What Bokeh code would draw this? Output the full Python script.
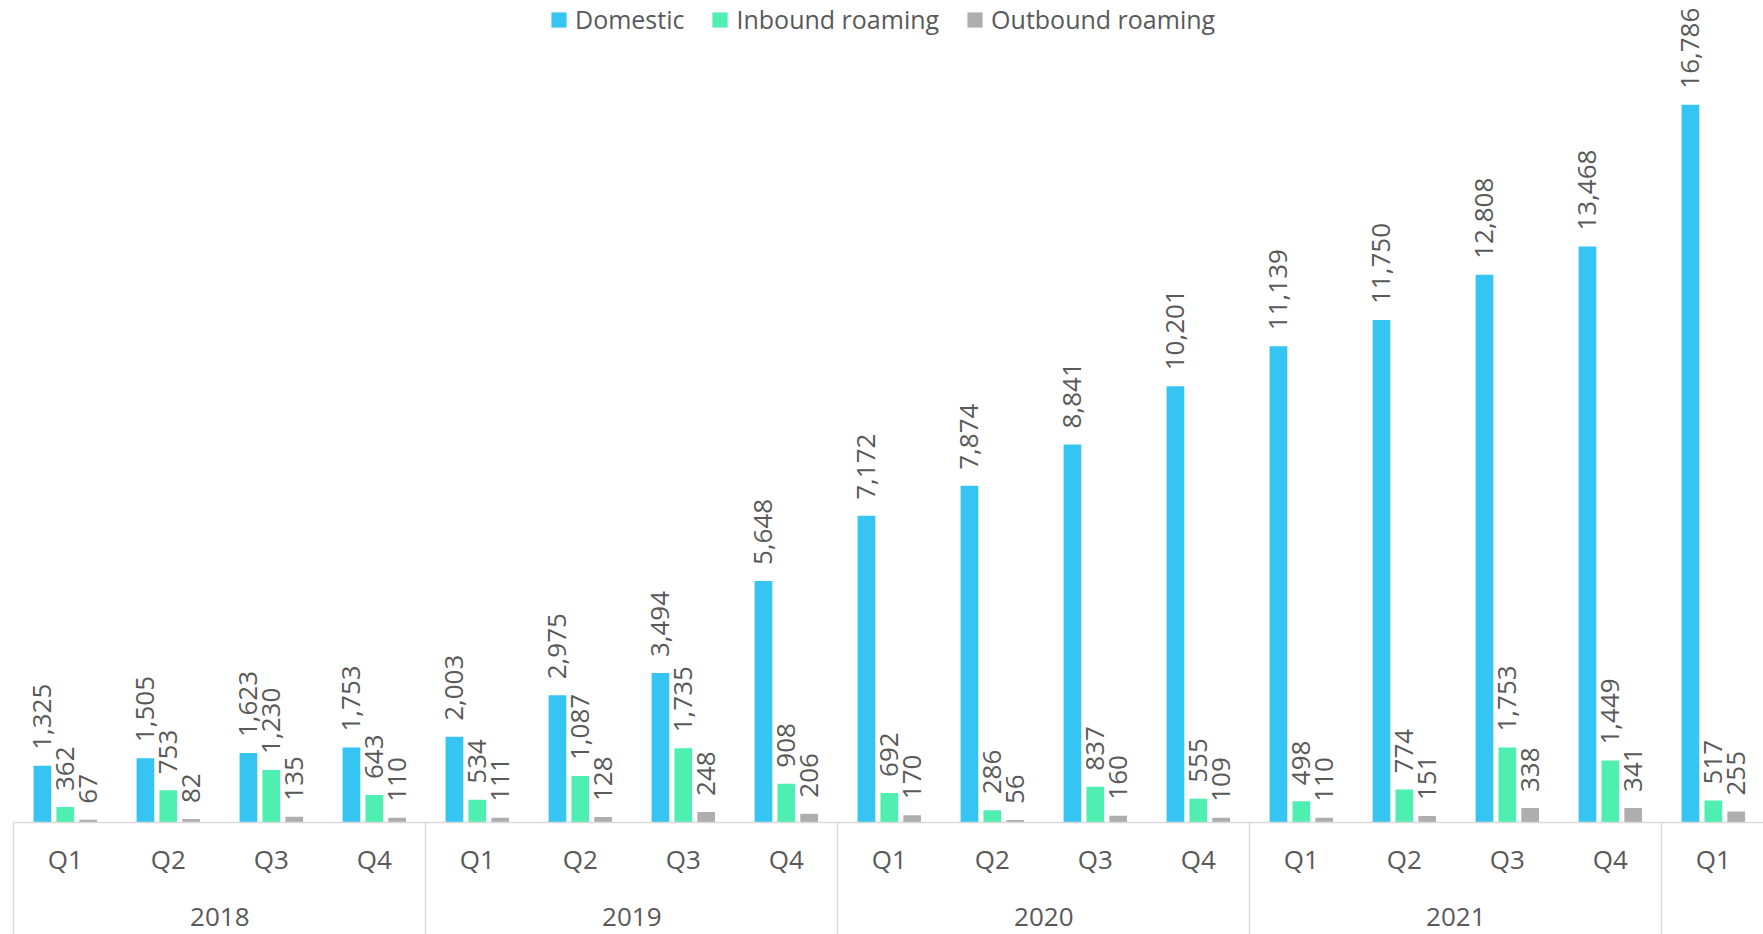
import math
from bokeh.plotting import figure
from bokeh.models import Range1d, LinearAxis, FixedTicker, Legend, LegendItem
from bokeh.embed import file_html
from bokeh.resources import INLINE
from bokeh.core.properties import value

# ---- data ----
years = ["2018", "2019", "2020", "2021"]
quarters = ["Q1", "Q2", "Q3", "Q4", "Q1", "Q2", "Q3", "Q4",
            "Q1", "Q2", "Q3", "Q4", "Q1", "Q2", "Q3", "Q4", "Q1"]
domestic = [1325, 1505, 1623, 1753, 2003, 2975, 3494, 5648,
            7172, 7874, 8841, 10201, 11139, 11750, 12808, 13468, 16786]
inbound = [362, 753, 1230, 643, 534, 1087, 1735, 908,
           692, 286, 837, 555, 498, 774, 1753, 1449, 517]
outbound = [67, 82, 135, 110, 111, 128, 248, 206,
            170, 56, 160, 109, 110, 151, 338, 341, 255]
series_names = ["Domestic", "Inbound roaming", "Outbound roaming"]

# ---- style ----
FONT = "Open Sans"
TXT = "#595959"
AXIS = "#D9D9D9"
colors = ["#36C5F3", "#4EEFB1", "#AEAEAE"]
offsets = [-0.222, 0.0, 0.222]
BAR_W = 0.172

n = len(domestic)
centers = [i + 0.5 for i in range(n)]
year_centers = [4 * k + 2 for k in range(len(years))]
year_bounds = [4 * k for k in range(len(years) + 1)]

p = figure(width=1763, height=934, output_backend="svg", toolbar_location=None,
           x_range=Range1d(-0.129, 16.987), y_range=Range1d(0, 19223),
           min_border_left=0, min_border_right=0, min_border_top=0,
           min_border_bottom=112, x_axis_location=None, y_axis_location=None,
           outline_line_color=None, background_fill_color="white",
           border_fill_color="white")
p.grid.visible = False

renderers = []
for vals, col, off in zip([domestic, inbound, outbound], colors, offsets):
    xs = [c + off for c in centers]
    r = p.vbar(x=xs, top=vals, width=BAR_W, fill_color=col, line_color=None)
    renderers.append(r)
    p.text(x=xs, y=vals, text=[f"{v:,}" for v in vals], angle=math.pi / 2,
           text_align="left", text_baseline="middle", y_offset=-16,
           text_font=value(FONT), text_font_size="26px", text_color=TXT)

# quarter axis; its minor ticks draw the year separators
qax = LinearAxis(ticker=FixedTicker(ticks=centers, minor_ticks=year_bounds),
                 major_label_overrides={c: q for c, q in zip(centers, quarters)},
                 bounds=(0, 20))
qax.axis_line_color = AXIS
qax.axis_line_width = 1.5
qax.major_tick_line_color = None
qax.major_tick_out = 0
qax.major_tick_in = 0
qax.minor_tick_line_color = AXIS
qax.minor_tick_line_width = 1.5
qax.minor_tick_out = 112
qax.minor_tick_in = 0
qax.major_label_standoff = -94
qax.major_label_text_font = FONT
qax.major_label_text_font_size = "26px"
qax.major_label_text_color = TXT
p.add_layout(qax, "below")

# year group axis
yax = LinearAxis(ticker=FixedTicker(ticks=year_centers, minor_ticks=[]),
                 major_label_overrides={c: y for c, y in zip(year_centers, years)})
yax.axis_line_color = None
yax.major_tick_line_color = None
yax.minor_tick_line_color = None
yax.major_tick_out = 0
yax.major_tick_in = 0
yax.major_label_standoff = 28
yax.major_label_text_font = FONT
yax.major_label_text_font_size = "26px"
yax.major_label_text_color = TXT
p.add_layout(yax, "below")

legend = Legend(items=[LegendItem(label=nm, renderers=[r]) for nm, r in zip(series_names, renderers)],
                orientation="horizontal", location=(549, 786),
                glyph_width=19, glyph_height=19, label_standoff=7, spacing=26,
                padding=0, margin=0, border_line_color=None, background_fill_alpha=0,
                label_text_font=FONT, label_text_font_size="25px", label_text_color=TXT)
p.add_layout(legend)

open("out.html", "w").write(file_html(p, INLINE))
